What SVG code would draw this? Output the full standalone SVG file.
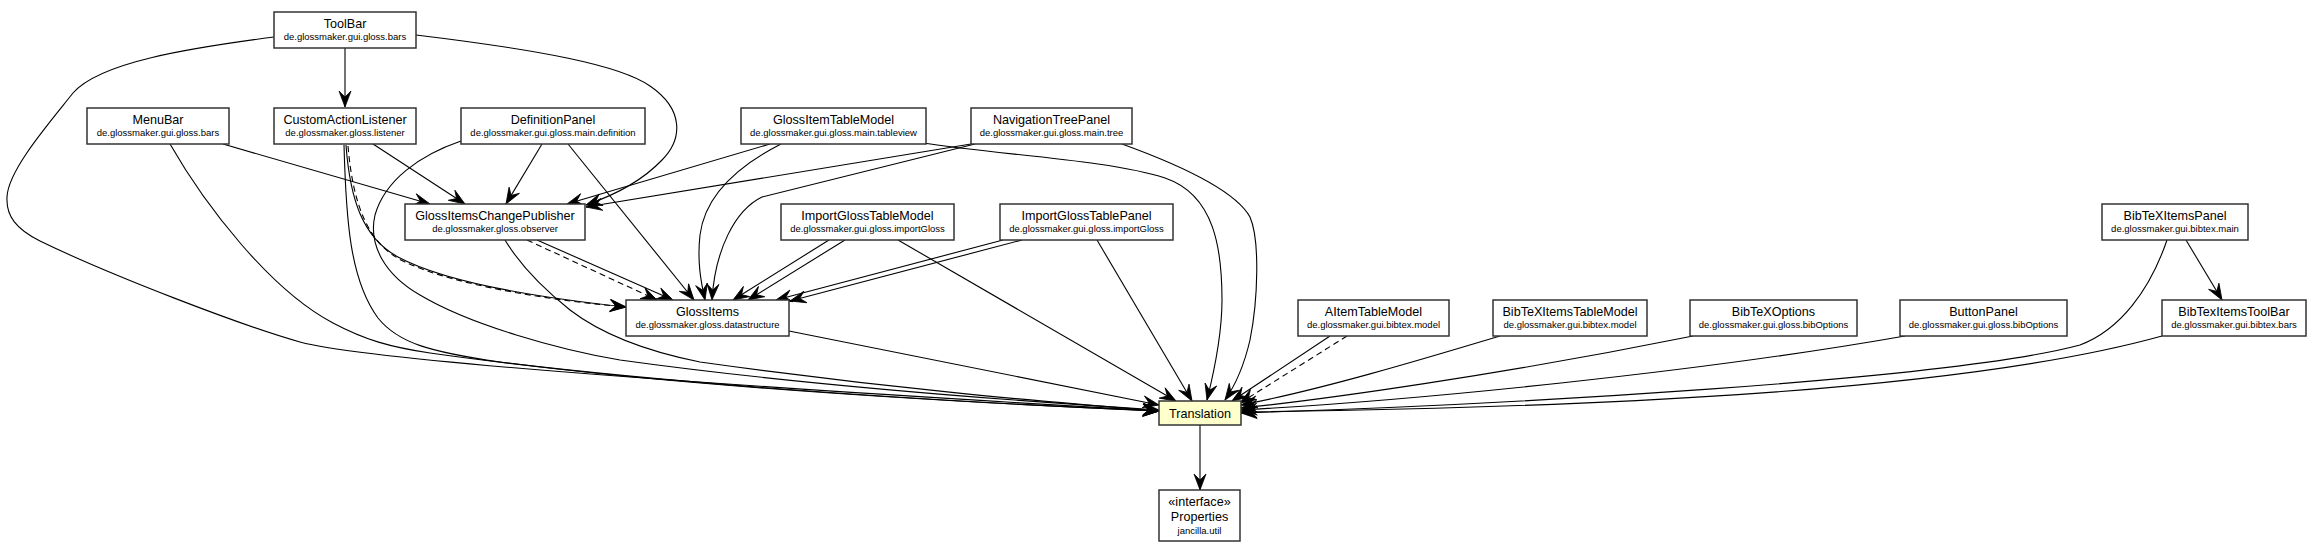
<svg xmlns="http://www.w3.org/2000/svg" width="2322" height="552" viewBox="0 0 2322 552">
<style>
.bg{fill:#ffffff}
.box{fill:#ffffff;stroke:#333333;stroke-width:1.5}
.hl{fill:#ffffcc}
.t{font-family:"Liberation Sans",Arial,sans-serif;font-size:12.6px;fill:#000;text-anchor:middle}
.s{font-family:"Liberation Sans",Arial,sans-serif;font-size:9.5px;fill:#000;text-anchor:middle}
.e{fill:none;stroke:#000;stroke-width:1.1;marker-end:url(#vee)}
.d{stroke-dasharray:6,4}
</style>
<defs>
<marker id="vee" markerUnits="userSpaceOnUse" markerWidth="18" markerHeight="14" refX="16" refY="6" orient="auto" overflow="visible">
<path d="M0,0 L16,6 L0,12 L6,6 Z" fill="#000" stroke="#000" stroke-width="0.8"/>
</marker>
</defs>
<rect class="bg" x="0" y="0" width="2322" height="552"/>
<g id="connectors">
<path class="e" d="M345,48 L345,107"/>
<path class="e" d="M274,37 C190,48 100,62 73,93 C50,122 8,170 7,197 C6,216 16,229 40,241 C110,275 240,325 300,342 C360,358 620,380 1159,411"/>
<path class="e" d="M416,35 C540,50 620,65 650,86 C685,110 682,140 662,160 C643,180 615,195 586,205"/>
<path class="e" d="M223,144 L430,204"/>
<path class="e" d="M170,144 C205,205 270,290 333,323 C365,340 390,347 430,353 C620,380 900,400 1159,411"/>
<path class="e" d="M373,144 L465,204"/>
<path class="e" d="M344,145 C346,220 350,280 378,318 C398,343 430,352 500,362 C700,388 950,402 1159,411"/>
<path class="e" d="M346,145 C350,200 363,238 398,257 C450,285 560,300 626,307"/>
<path class="e d" d="M348,146 C353,205 368,245 405,262 C458,287 565,302 626,307"/>
<path class="e" d="M542,144 L506,204"/>
<path class="e" d="M568,144 L694,300"/>
<path class="e" d="M461,141 C420,155 385,180 375,215 C368,245 385,275 420,295 C470,325 560,350 620,360 C800,385 1000,400 1159,410"/>
<path class="e" d="M770,144 L567,204"/>
<path class="e" d="M781,144 C740,165 705,195 700,235 C697,262 701,282 705,300"/>
<path class="e" d="M923,143 C1000,155 1110,160 1165,178 C1215,195 1222,250 1222,300 C1222,340 1212,380 1207,400"/>
<path class="e" d="M971,144 L586,207"/>
<path class="e" d="M975,144 L762,197 C735,210 715,250 712,300"/>
<path class="e" d="M1122,144 C1180,165 1235,190 1250,217 C1260,240 1258,300 1250,340 C1243,370 1232,390 1225,400"/>
<path class="e" d="M537,240 L673,300"/>
<path class="e d" d="M527,240 L657,300"/>
<path class="e" d="M505,240 C520,265 545,290 570,310 C600,333 640,350 700,362 C900,390 1050,402 1159,411"/>
<path class="e" d="M829,240 L733,300"/>
<path class="e" d="M845,240 L748,300"/>
<path class="e" d="M898,240 L1176,401"/>
<path class="e" d="M1003,240 L776,300"/>
<path class="e" d="M1022,240 L790,301"/>
<path class="e" d="M1097,240 L1192,401"/>
<path class="e" d="M789,331 L1159,405"/>
<path class="e" d="M1330,336 L1232,401"/>
<path class="e d" d="M1347,336 L1240,403"/>
<path class="e" d="M1500,336 C1420,360 1320,390 1241,405"/>
<path class="e" d="M1693,336 C1500,375 1320,400 1241,408"/>
<path class="e" d="M1905,336 C1700,372 1420,400 1241,410"/>
<path class="e" d="M2162,336 C1950,395 1550,408 1241,412"/>
<path class="e" d="M2167,240 C2150,290 2120,330 2080,345 C1950,380 1500,405 1241,413"/>
<path class="e" d="M2186,240 L2222,300"/>
<path class="e" d="M1200,425 L1200,490"/>
</g>
<g id="ToolBar"><rect class="box" x="274" y="12" width="142" height="36"/><text class="t" x="345" y="27.5">ToolBar</text><text class="s" x="345" y="40">de.glossmaker.gui.gloss.bars</text></g>
<g id="MenuBar"><rect class="box" x="87" y="108" width="142" height="36"/><text class="t" x="158" y="123.5">MenuBar</text><text class="s" x="158" y="136">de.glossmaker.gui.gloss.bars</text></g>
<g id="CustomActionListener"><rect class="box" x="274" y="108" width="142" height="36"/><text class="t" x="345" y="123.5">CustomActionListener</text><text class="s" x="345" y="136">de.glossmaker.gloss.listener</text></g>
<g id="DefinitionPanel"><rect class="box" x="461" y="108" width="184" height="36"/><text class="t" x="553" y="123.5">DefinitionPanel</text><text class="s" x="553" y="136">de.glossmaker.gui.gloss.main.definition</text></g>
<g id="GlossItemTableModel"><rect class="box" x="741" y="108" width="185" height="36"/><text class="t" x="833.5" y="123.5">GlossItemTableModel</text><text class="s" x="833.5" y="136">de.glossmaker.gui.gloss.main.tableview</text></g>
<g id="NavigationTreePanel"><rect class="box" x="971" y="108" width="161" height="36"/><text class="t" x="1051.5" y="123.5">NavigationTreePanel</text><text class="s" x="1051.5" y="136">de.glossmaker.gui.gloss.main.tree</text></g>
<g id="GlossItemsChangePublisher"><rect class="box" x="405" y="204" width="180" height="36"/><text class="t" x="495" y="219.5">GlossItemsChangePublisher</text><text class="s" x="495" y="232">de.glossmaker.gloss.observer</text></g>
<g id="ImportGlossTableModel"><rect class="box" x="781" y="204" width="173" height="36"/><text class="t" x="867.5" y="219.5">ImportGlossTableModel</text><text class="s" x="867.5" y="232">de.glossmaker.gui.gloss.importGloss</text></g>
<g id="ImportGlossTablePanel"><rect class="box" x="1000" y="204" width="173" height="36"/><text class="t" x="1086.5" y="219.5">ImportGlossTablePanel</text><text class="s" x="1086.5" y="232">de.glossmaker.gui.gloss.importGloss</text></g>
<g id="BibTeXItemsPanel"><rect class="box" x="2102" y="204" width="146" height="36"/><text class="t" x="2175" y="219.5">BibTeXItemsPanel</text><text class="s" x="2175" y="232">de.glossmaker.gui.bibtex.main</text></g>
<g id="GlossItems"><rect class="box" x="626" y="300" width="163" height="36"/><text class="t" x="707.5" y="315.5">GlossItems</text><text class="s" x="707.5" y="328">de.glossmaker.gloss.datastructure</text></g>
<g id="AItemTableModel"><rect class="box" x="1298" y="300" width="151" height="36"/><text class="t" x="1373.5" y="315.5">AItemTableModel</text><text class="s" x="1373.5" y="328">de.glossmaker.gui.bibtex.model</text></g>
<g id="BibTeXItemsTableModel"><rect class="box" x="1493" y="300" width="154" height="36"/><text class="t" x="1570" y="315.5">BibTeXItemsTableModel</text><text class="s" x="1570" y="328">de.glossmaker.gui.bibtex.model</text></g>
<g id="BibTeXOptions"><rect class="box" x="1690" y="300" width="167" height="36"/><text class="t" x="1773.5" y="315.5">BibTeXOptions</text><text class="s" x="1773.5" y="328">de.glossmaker.gui.gloss.bibOptions</text></g>
<g id="ButtonPanel"><rect class="box" x="1900" y="300" width="167" height="36"/><text class="t" x="1983.5" y="315.5">ButtonPanel</text><text class="s" x="1983.5" y="328">de.glossmaker.gui.gloss.bibOptions</text></g>
<g id="BibTexItemsToolBar"><rect class="box" x="2162" y="300" width="144" height="36"/><text class="t" x="2234" y="315.5">BibTexItemsToolBar</text><text class="s" x="2234" y="328">de.glossmaker.gui.bibtex.bars</text></g>
<g id="Translation"><rect class="box hl" x="1159" y="401" width="82" height="24"/><text class="t" x="1200" y="417.5">Translation</text></g>
<g id="Properties"><rect class="box" x="1159" y="490" width="81" height="51"/><text class="t" x="1199.5" y="506">«interface»</text><text class="t" x="1199.5" y="520.5">Properties</text><text class="s" x="1199.5" y="534">jancilla.util</text></g>
</svg>
